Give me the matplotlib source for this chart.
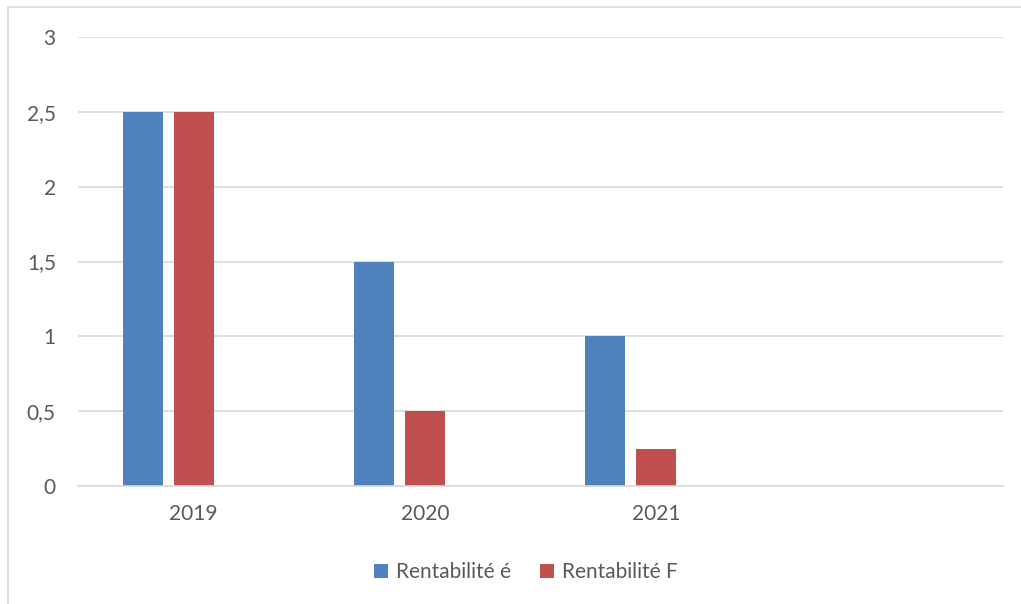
import numpy as np
import matplotlib.pyplot as plt
from matplotlib.patches import Rectangle

plt.rcParams['font.family'] = ['Lato', 'DejaVu Sans']

# data
years = ['2019', '2020', '2021', '']
rent_e = [2.5, 1.5, 1.0, 0]
rent_f = [2.5, 0.5, 0.25, 0]
yticks = [0, 0.5, 1, 1.5, 2, 2.5, 3]
ytick_labels = ['0', '0,5', '1', '1,5', '2', '2,5', '3']

blue = '#4F81BD'
red = '#C0504D'
txt = '#595959'

fig = plt.figure(figsize=(10.21, 6.04), dpi=100)
ax = fig.add_axes([78 / 1021, 1 - 486 / 604, 925 / 1021, 449 / 604])

x = np.arange(len(years))
w = 0.173
ax.bar(x - 0.22, rent_e, w, color=blue, label='Rentabilité é')
ax.bar(x, rent_f, w, color=red, label='Rentabilité F')

ax.set_xlim(-0.5, len(years) - 0.5)
ax.set_ylim(0, 3)
ax.set_yticks(yticks)
ax.set_yticklabels(ytick_labels)
ax.set_xticks(x)
ax.set_xticklabels(years)
ax.tick_params(axis='both', length=0, labelsize=15, colors=txt)
ax.tick_params(axis='y', pad=16)
ax.tick_params(axis='x', pad=13)
ax.yaxis.grid(True, color='#d9d9d9', linewidth=1.2)
ax.set_axisbelow(True)
for s in ['top', 'right', 'left']:
    ax.spines[s].set_visible(False)
ax.spines['bottom'].set_color('#d9d9d9')
ax.spines['bottom'].set_linewidth(1.2)

# chart frame (cropped on the right and bottom)
fig.patches.append(Rectangle((8 / 1021, -0.1), 1.2, 1.1 - 7 / 604,
                             transform=fig.transFigure, fill=False,
                             edgecolor='#d9d9d9', linewidth=1.2))

fig.legend(loc='center', bbox_to_anchor=(526 / 1021, 1 - 572 / 604), ncol=2,
           frameon=False, fontsize=15, labelcolor=txt, handlelength=0.65,
           handleheight=0.65, handletextpad=0.4, columnspacing=1.4)

fig.savefig('out.png', dpi=100)
